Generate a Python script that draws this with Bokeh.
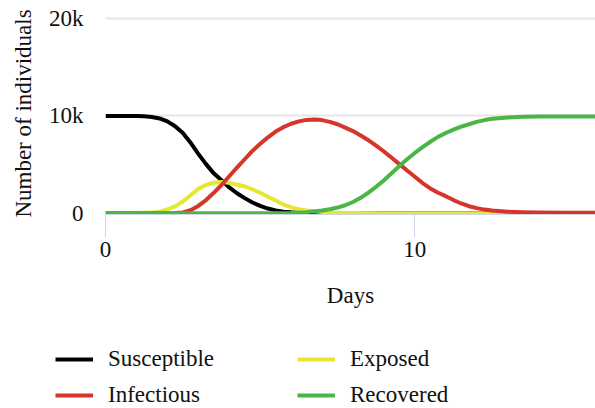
from bokeh.plotting import figure
from bokeh.models import Legend, LegendItem, FixedTicker, Range1d
from bokeh.layouts import column
from bokeh.embed import file_html
from bokeh.resources import INLINE

# ---- data ----
s_days = [0, 0.5, 1.0, 1.25, 1.5, 1.75, 2.0, 2.25, 2.5, 2.75, 3.0, 3.25, 3.5, 3.75, 4.0,
          4.25, 4.5, 4.75, 5.0, 5.25, 5.5, 5.75, 6.0, 6.5, 7.0, 8.0, 10.0, 12.0, 14.0, 15.84]
susceptible = [10000, 10000, 9990, 9970, 9900, 9750, 9450, 8950, 8250, 7250, 6100, 5050, 4100, 3400, 2650,
               2050, 1550, 1100, 750, 480, 290, 160, 90, 30, 10, 0, 0, 0, 0, 0]

e_days = [0, 1.0, 1.5, 1.75, 2.0, 2.25, 2.5, 2.75, 3.0, 3.25, 3.5, 3.75, 4.0, 4.25, 4.5,
          4.75, 5.0, 5.25, 5.5, 5.75, 6.0, 6.25, 6.5, 7.0, 7.5, 8.0, 9.0, 12.0, 15.84]
exposed = [0, 10, 60, 150, 380, 700, 1200, 1850, 2500, 2900, 3130, 3200, 3120, 2950, 2750,
           2450, 2100, 1700, 1300, 900, 600, 400, 270, 110, 40, 10, 0, 0, 0]

i_days = [0, 2.0, 2.25, 2.5, 2.75, 3.0, 3.25, 3.5, 3.75, 4.0, 4.25, 4.5, 4.75, 5.0, 5.25,
          5.5, 5.75, 6.0, 6.25, 6.5, 6.75, 7.0, 7.25, 7.5, 7.75, 8.0, 8.25, 8.5, 8.75, 9.0,
          9.25, 9.5, 9.75, 10.0, 10.25, 10.5, 10.75, 11.0, 11.25, 11.5, 11.75, 12.0, 12.25,
          12.5, 13.0, 13.5, 14.0, 15.0, 15.84]
infectious = [0, 5, 20, 80, 300, 750, 1350, 2100, 2900, 3800, 4700, 5550, 6400, 7150, 7800,
              8400, 8850, 9200, 9450, 9600, 9650, 9580, 9400, 9150, 8800, 8450, 8000, 7500, 6950, 6350,
              5700, 5050, 4400, 3750, 3100, 2550, 2100, 1750, 1350, 1000, 720, 520, 370,
              270, 160, 100, 70, 50, 40]

r_days = [0, 5.5, 6.0, 6.5, 7.0, 7.25, 7.5, 7.75, 8.0, 8.25, 8.5, 8.75, 9.0, 9.25, 9.5, 9.75,
          10.0, 10.25, 10.5, 10.75, 11.0, 11.25, 11.5, 11.75, 12.0, 12.25, 12.5, 13.0, 13.5,
          14.0, 15.0, 15.84]
recovered = [0, 5, 30, 110, 270, 400, 580, 820, 1150, 1580, 2120, 2720, 3380, 4100, 4850, 5550,
             6200, 6800, 7350, 7850, 8250, 8600, 8900, 9150, 9400, 9580, 9720, 9850, 9920,
             9950, 9960, 9960]

series_names = ["Susceptible", "Exposed", "Infectious", "Recovered"]
series_colors = ["#000000", "#e6e634", "#d6352c", "#4bb545"]

x_ticks = [0, 10]
y_ticks = [0, 10000, 20000]
y_tick_labels = ["0", "10k", "20k"]

FONT = "Liberation Serif"
LW = 4

p = figure(width=595, height=320, output_backend="svg", toolbar_location=None,
           x_range=Range1d(0, 15.84), y_range=Range1d(-134, 20648),
           min_border_left=105, min_border_right=0, min_border_top=12, min_border_bottom=106)
p.outline_line_color = None
p.xgrid.visible = False
p.ygrid.grid_line_color = "#e6e6e6"
p.ygrid.grid_line_width = 2

# y axis
p.yaxis.ticker = FixedTicker(ticks=y_ticks)
p.yaxis.major_label_overrides = {t: l for t, l in zip(y_ticks, y_tick_labels)}
p.yaxis.axis_line_color = None
p.yaxis.major_tick_line_color = None
p.yaxis.minor_tick_line_color = None
p.yaxis.major_tick_out = 0
p.yaxis.major_tick_in = 0
p.yaxis.major_label_standoff = 22
p.yaxis.axis_label = "Number of individuals"
p.yaxis.axis_label_standoff = 10

# x axis
p.xaxis.ticker = FixedTicker(ticks=x_ticks)
p.xaxis.axis_line_color = "#ccd6eb"
p.xaxis.major_tick_line_color = "#ccd6eb"
p.xaxis.minor_tick_line_color = None
p.xaxis.major_tick_out = 23
p.xaxis.major_tick_in = 0
p.xaxis.major_label_standoff = 4
p.xaxis.axis_label = "Days"
p.xaxis.axis_label_standoff = 23

for ax in (p.xaxis[0], p.yaxis[0]):
    ax.major_label_text_font = FONT
    ax.major_label_text_font_size = "23px"
    ax.major_label_text_color = "#111111"
    ax.axis_label_text_font = FONT
    ax.axis_label_text_font_size = "23px"
    ax.axis_label_text_font_style = "normal"
    ax.axis_label_text_color = "#111111"

all_days = [s_days, e_days, i_days, r_days]
all_vals = [susceptible, exposed, infectious, recovered]
for d, v, c in zip(all_days, all_vals, series_colors):
    p.line(d, v, line_color=c, line_width=LW, line_join="round")

# ---- legend strip below the plot ----
lg = figure(width=595, height=88, output_backend="svg", toolbar_location=None,
            x_axis_type=None, y_axis_type=None, x_range=Range1d(0, 1), y_range=Range1d(0, 1),
            min_border_left=0, min_border_right=0, min_border_top=0, min_border_bottom=0)
lg.outline_line_color = None
lg.grid.visible = False
try:
    p.frame_align = False
    lg.frame_align = False
except Exception:
    pass

nan = float("nan")
leg_r = {}
for name, c in zip(series_names, series_colors):
    leg_r[name] = lg.line([nan], [nan], line_color=c, line_width=4)

order = ["Susceptible", "Infectious", "Exposed", "Recovered"]
legend = Legend(items=[LegendItem(label=n, renderers=[leg_r[n]]) for n in order],
                location=(55, 0), ncols=2)
legend.border_line_color = None
legend.background_fill_alpha = 0
legend.padding = 0
legend.margin = 0
legend.spacing = 10
legend.glyph_width = 38
legend.glyph_height = 20
legend.label_height = 20
legend.label_width = 179
legend.label_standoff = 15
legend.label_text_font = FONT
legend.label_text_font_size = "23px"
legend.label_text_color = "#111111"
lg.add_layout(legend)

layout = column(p, lg, spacing=0)
open("out.html", "w").write(file_html(layout, INLINE))
